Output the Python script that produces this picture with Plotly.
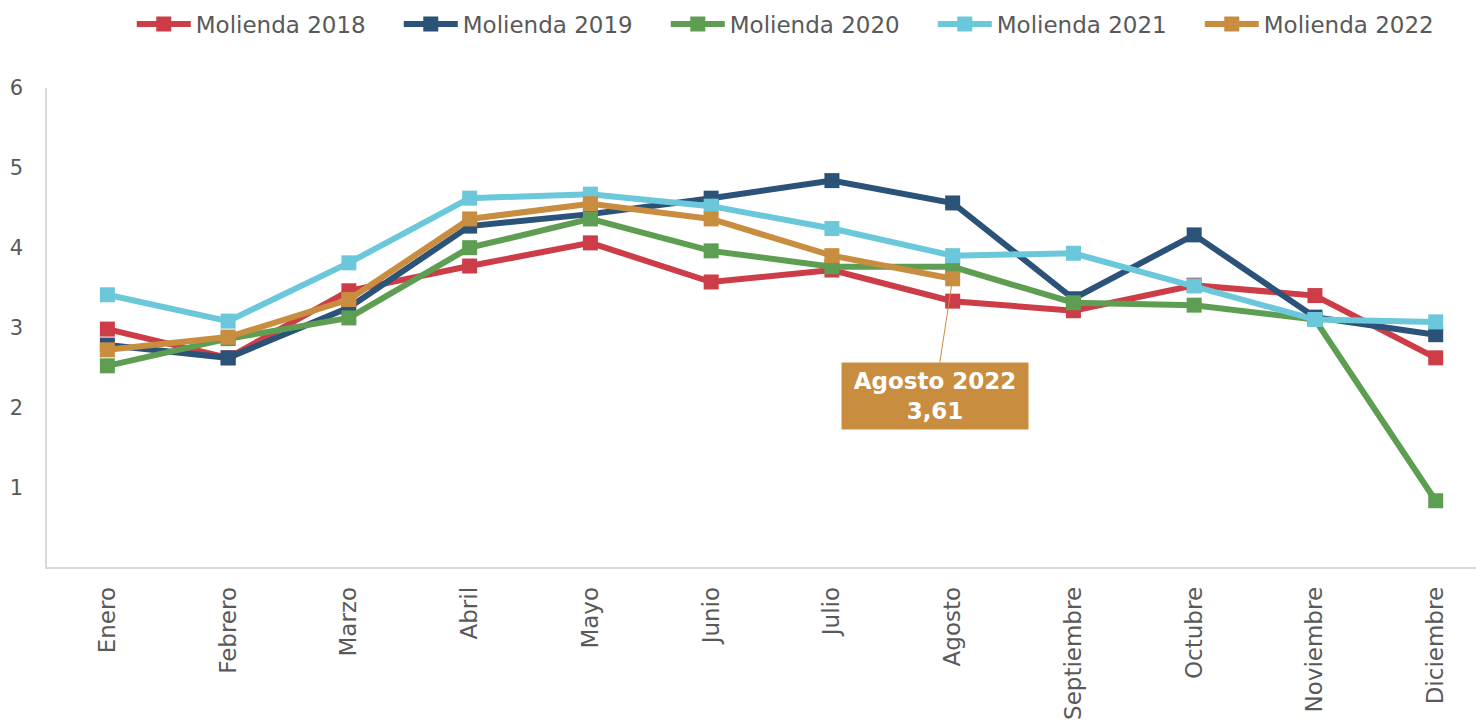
import plotly.graph_objects as go

months = ["Enero", "Febrero", "Marzo", "Abril", "Mayo", "Junio", "Julio",
          "Agosto", "Septiembre", "Octubre", "Noviembre", "Diciembre"]

molienda_2018 = [2.98, 2.62, 3.46, 3.77, 4.06, 3.57, 3.72, 3.33, 3.21, 3.53, 3.40, 2.62]
molienda_2019 = [2.78, 2.62, 3.25, 4.27, 4.42, 4.62, 4.84, 4.56, 3.36, 4.16, 3.13, 2.91]
molienda_2020 = [2.52, 2.86, 3.12, 4.00, 4.36, 3.96, 3.76, 3.76, 3.31, 3.28, 3.10, 0.83]
molienda_2021 = [3.41, 3.08, 3.81, 4.62, 4.67, 4.52, 4.24, 3.90, 3.93, 3.52, 3.10, 3.07]
molienda_2022 = [2.72, 2.88, 3.35, 4.36, 4.55, 4.36, 3.90, 3.61]

series = [
    ("Molienda 2018", molienda_2018, "#CC3D48"),
    ("Molienda 2019", molienda_2019, "#2B5278"),
    ("Molienda 2020", molienda_2020, "#5E9E52"),
    ("Molienda 2021", molienda_2021, "#6AC8DA"),
    ("Molienda 2022", molienda_2022, "#C98D40"),
]

y_ticks = [1, 2, 3, 4, 5, 6]

fig = go.Figure()
for name, vals, color in series:
    fig.add_trace(go.Scatter(
        x=months[:len(vals)], y=vals, name=name, mode="lines+markers",
        line=dict(color=color, width=6),
        marker=dict(symbol="square", size=15, color=color),
    ))

fig.add_annotation(
    x="Agosto", y=molienda_2022[7], xref="x", yref="y",
    text="<b>Agosto 2022<br>3,61</b>",
    showarrow=True, arrowhead=0, arrowwidth=1, arrowcolor="#C98D40",
    ax=-18, ay=117, bgcolor="#C98D40", borderpad=3, width=180, height=60,
    font=dict(family="DejaVu Sans", size=23, color="white"),
)

fig.update_layout(
    width=1484, height=721,
    margin=dict(l=39, r=8, t=80, b=162, autoexpand=False),
    paper_bgcolor="white", plot_bgcolor="white",
    font=dict(family="DejaVu Sans", color="#595959"),
    showlegend=True,
    legend=dict(orientation="h", xref="container", yref="container",
                x=0.0834, xanchor="left", y=1 - 16 / 721, yanchor="middle",
                font=dict(size=23, color="#595959"), itemwidth=54,
                entrywidth=198, entrywidthmode="pixels"),
    xaxis=dict(type="category", categoryorder="array", categoryarray=months,
               range=[-0.5, 11.4], showgrid=False, showline=True, automargin=False,
               linecolor="#D9D9D9", linewidth=1.5, tickangle=-90,
               tickfont=dict(size=23, color="#595959"), ticks="",
               ticklabelstandoff=9),
    yaxis=dict(range=[0, 6], tickvals=y_ticks, showgrid=False, showline=True,
               automargin=False,
               linecolor="#D9D9D9", linewidth=1.5, zeroline=False,
               tickfont=dict(size=21, color="#595959"), ticks="",
               ticklabelstandoff=18),
)

fig.write_html("out.html")
